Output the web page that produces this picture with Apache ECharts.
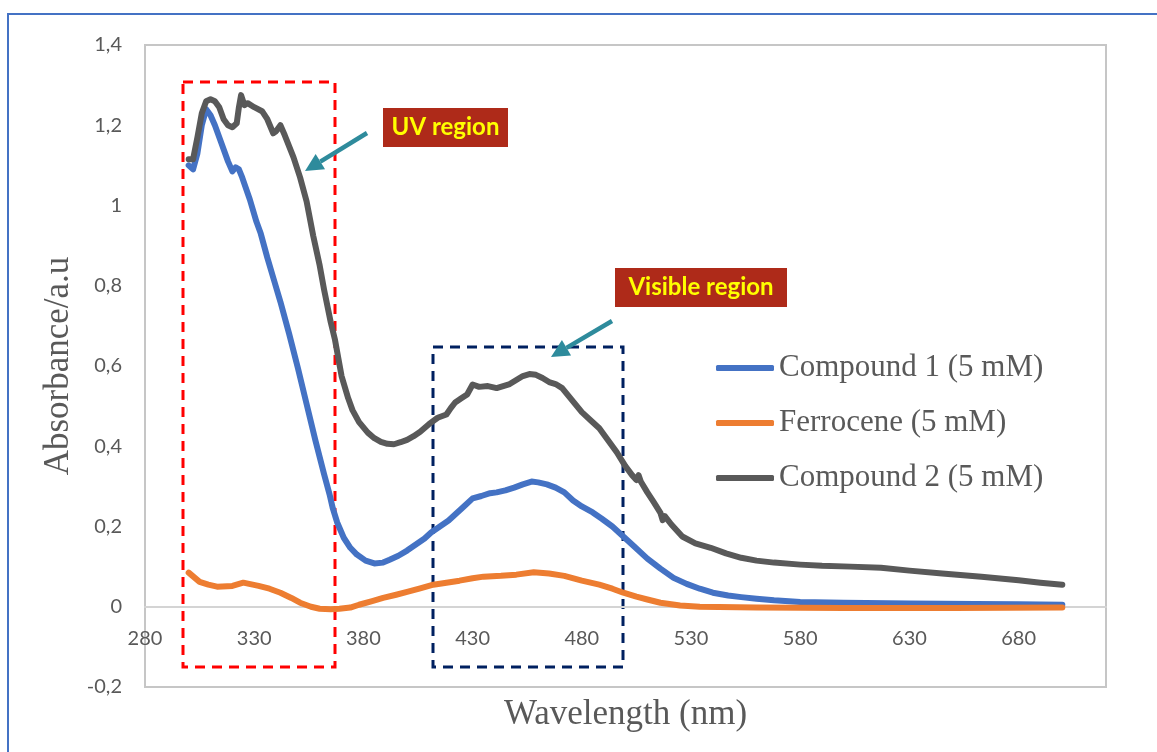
<!DOCTYPE html>
<html>
<head>
<meta charset="utf-8">
<script src="https://cdn.jsdelivr.net/npm/echarts@6/dist/echarts.min.js"></script>
<style>
  html, body { margin: 0; padding: 0; background: #fff; }
  #chart { width: 1157px; height: 752px; }
</style>
</head>
<body>
<div id="chart"></div>
<script>
// wavelengths (nm) and absorbance
const c1Nm  = [300, 302, 304, 306, 308, 310, 312, 315, 318, 320, 321.5, 323, 324.5, 328, 331, 333, 336, 339, 342, 346, 350, 354, 358, 362, 364.5, 366, 368, 371, 374, 377, 381, 385, 389, 392, 396, 400, 404, 408, 411, 415, 419, 422, 426, 430, 434, 438, 441, 445, 449, 453, 457, 460, 464, 468, 472, 476, 480, 485, 489, 494, 499, 504, 510, 516, 522, 528, 534, 540, 547, 553, 560, 568, 580, 600, 630, 660, 680, 700];
const c1Abs = [1.10, 1.09, 1.13, 1.20, 1.24, 1.225, 1.20, 1.155, 1.11, 1.085, 1.095, 1.09, 1.07, 1.015, 0.96, 0.93, 0.87, 0.815, 0.76, 0.68, 0.595, 0.505, 0.415, 0.33, 0.28, 0.245, 0.21, 0.172, 0.147, 0.13, 0.115, 0.108, 0.11, 0.117, 0.127, 0.14, 0.155, 0.17, 0.185, 0.20, 0.215, 0.23, 0.25, 0.27, 0.276, 0.283, 0.285, 0.29, 0.297, 0.305, 0.312, 0.31, 0.305, 0.297, 0.285, 0.265, 0.25, 0.235, 0.22, 0.20, 0.175, 0.15, 0.12, 0.095, 0.072, 0.057, 0.045, 0.035, 0.028, 0.024, 0.02, 0.016, 0.012, 0.01, 0.008, 0.007, 0.006, 0.005];

const fcNm  = [300, 305, 309, 313, 320, 325, 332, 337, 342, 347, 351, 356, 360, 365, 369, 374, 378, 384, 389, 395, 400, 406, 412, 418, 424, 430, 435, 443, 450, 458, 465, 472, 480, 488, 494, 499, 505, 510, 516, 525, 534, 560, 600, 650, 700];
const fcAbs = [0.085, 0.062, 0.055, 0.05, 0.052, 0.06, 0.052, 0.045, 0.035, 0.022, 0.01, 0.0, -0.005, -0.006, -0.005, -0.002, 0.005, 0.014, 0.022, 0.03, 0.037, 0.046, 0.055, 0.06, 0.065, 0.071, 0.075, 0.077, 0.08, 0.086, 0.083, 0.077, 0.065, 0.055, 0.045, 0.035, 0.025, 0.018, 0.01, 0.003, 0.0, -0.002, -0.003, -0.003, -0.002];

const c2Nm  = [300, 302, 304, 306, 308, 310, 312, 314, 316, 318, 320, 322, 323, 324, 325.5, 327, 330, 333.6, 336, 338.7, 340, 342, 344, 348, 351, 354, 357, 360, 362, 365, 367, 370, 373, 375, 378, 382, 385, 388, 391, 394, 397, 400, 403, 406, 410, 414, 418, 420, 422, 425, 427.5, 430, 433, 437, 441, 444, 447, 450, 453, 456, 459, 462, 465, 468, 471, 474, 477, 480, 484, 488, 492, 496, 500, 503, 505, 506, 507, 510, 513, 516, 517, 518, 521, 526, 532, 539, 546, 553, 560, 568, 580, 590, 603, 617, 630, 645, 663, 680, 690, 700];
const c2Abs = [1.115, 1.115, 1.17, 1.23, 1.26, 1.265, 1.26, 1.245, 1.215, 1.20, 1.195, 1.205, 1.245, 1.275, 1.25, 1.255, 1.245, 1.235, 1.215, 1.18, 1.185, 1.20, 1.175, 1.12, 1.07, 1.01, 0.925, 0.85, 0.79, 0.71, 0.665, 0.575, 0.52, 0.49, 0.46, 0.434, 0.42, 0.411, 0.406, 0.405, 0.41, 0.416, 0.425, 0.436, 0.455, 0.471, 0.479, 0.495, 0.509, 0.52, 0.529, 0.554, 0.548, 0.55, 0.545, 0.55, 0.555, 0.565, 0.575, 0.58, 0.578, 0.57, 0.56, 0.555, 0.545, 0.525, 0.505, 0.485, 0.465, 0.445, 0.415, 0.385, 0.35, 0.328, 0.316, 0.328, 0.312, 0.285, 0.26, 0.234, 0.216, 0.226, 0.205, 0.175, 0.158, 0.147, 0.133, 0.122, 0.115, 0.11, 0.105, 0.102, 0.1, 0.097, 0.09, 0.083, 0.075, 0.066, 0.06, 0.055];

const seriesNames = ['Compound 1 (5 mM)', 'Ferrocene (5 mM)', 'Compound 2 (5 mM)'];
const seriesColors = ['#4472C4', '#ED7D31', '#595959'];

const pairs = (xs, ys) => xs.map((x, i) => [x, ys[i]]);

const chart = echarts.init(document.getElementById('chart'));

function arrow(x1, y1, x2, y2, color) {
    const dx = x2 - x1, dy = y2 - y1;
    const len = Math.sqrt(dx * dx + dy * dy);
    const ux = dx / len, uy = dy / len;
    const headLen = 18, headW = 9;
    const bx = x2 - ux * headLen, by = y2 - uy * headLen;
    return [
        { type: 'line', shape: { x1: x1, y1: y1, x2: bx, y2: by }, style: { stroke: color, lineWidth: 4.5 } },
        { type: 'polygon', shape: { points: [[x2, y2], [bx - uy * headW, by + ux * headW], [bx + uy * headW, by - ux * headW]] }, style: { fill: color } }
    ];
}

function tag(x, y, w, h, text) {
    return [
        { type: 'rect', shape: { x: x, y: y, width: w, height: h }, style: { fill: '#AE2A19' } },
        { type: 'text', x: x + w / 2, y: y + h / 2, style: { text: text, fill: '#FFFF00', font: 'bold 24px Lato', align: 'center', verticalAlign: 'middle' } }
    ];
}

const teal = '#2E8B9C';

const option = {
    animation: false,
    backgroundColor: '#ffffff',
    grid: {
        left: 145, top: 45, width: 961, height: 642,
        outerBoundsMode: 'none',
        containLabel: false,
        show: true, borderColor: '#c6c6c6', borderWidth: 2
    },
    legend: {
        orient: 'vertical',
        left: 711, top: 346,
        icon: 'roundRect',
        itemWidth: 58, itemHeight: 6, itemGap: 21,
        data: seriesNames,
        textStyle: { fontFamily: 'Liberation Serif', fontSize: 31, color: '#595959', lineHeight: 34 }
    },
    xAxis: {
        type: 'value',
        min: 280, max: 720, interval: 50,
        name: 'Wavelength (nm)',
        nameLocation: 'middle',
        nameGap: 10,
        nameTextStyle: { fontFamily: 'Liberation Serif', fontSize: 35, color: '#595959' },
        axisLine: { onZero: true, lineStyle: { color: '#d4d4d4', width: 2 } },
        axisTick: { show: false },
        splitLine: { show: false },
        axisLabel: { showMaxLabel: false, margin: -58, fontFamily: 'Lato', fontSize: 20, color: '#595959' }
    },
    yAxis: {
        type: 'value',
        min: -0.2, max: 1.4, interval: 0.2,
        name: 'Absorbance/a.u',
        nameLocation: 'middle',
        nameGap: 66,
        nameTextStyle: { fontFamily: 'Liberation Serif', fontSize: 35, color: '#595959' },
        axisLine: { show: false },
        axisTick: { show: false },
        splitLine: { show: false },
        axisLabel: {
            margin: 23, fontFamily: 'Lato', fontSize: 20, color: '#595959',
            formatter: v => String(Math.round(v * 10) / 10).replace('.', ',')
        }
    },
    series: [
        { name: seriesNames[0], data: pairs(c1Nm, c1Abs) },
        { name: seriesNames[1], data: pairs(fcNm, fcAbs) },
        { name: seriesNames[2], data: pairs(c2Nm, c2Abs) }
    ].map((s, i) => Object.assign(s, {
        type: 'line',
        showSymbol: false,
        color: seriesColors[i],
        lineStyle: { width: 6, color: seriesColors[i], cap: 'round', join: 'round' }
    })),
    graphic: [
        // outer frame
        { type: 'polyline', shape: { points: [[8, 760], [8, 14], [1160, 14]] }, style: { stroke: '#4472C4', lineWidth: 2, fill: null } },
        // highlighted regions
        { type: 'rect', shape: { x: 183, y: 82, width: 152, height: 585 }, style: { fill: null, stroke: '#FF0000', lineWidth: 3, lineDash: [10, 7] } },
        { type: 'rect', shape: { x: 433, y: 347, width: 190, height: 320 }, style: { fill: null, stroke: '#002060', lineWidth: 3, lineDash: [10, 7] } },
        ...arrow(367, 133, 305, 171, teal),
        ...arrow(612, 321, 551, 357, teal),
        ...tag(383, 108, 125, 39, 'UV region'),
        ...tag(615, 268, 172, 39, 'Visible region')
    ]
};

chart.setOption(option);
</script>
</body>
</html>
